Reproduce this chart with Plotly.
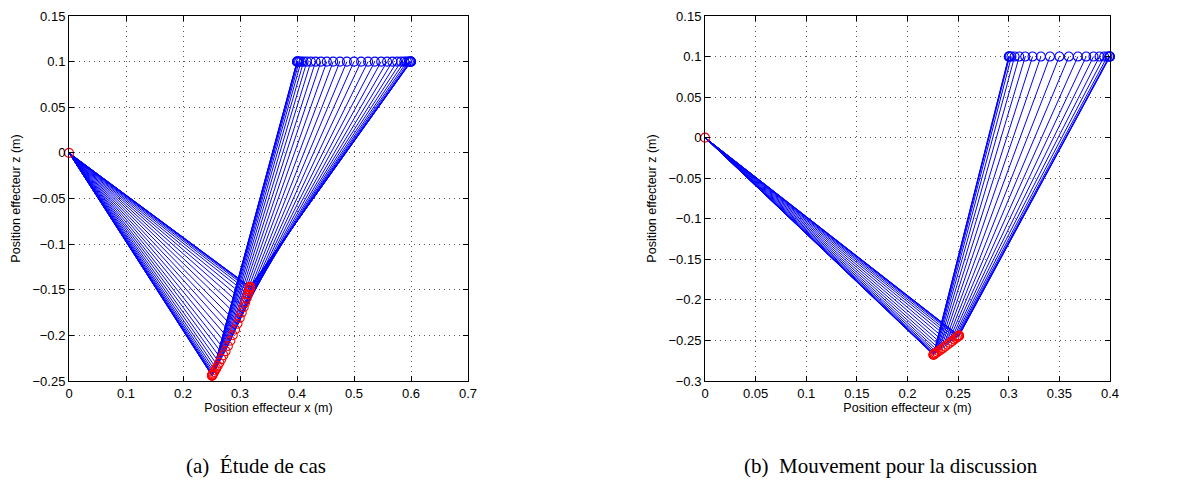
import plotly.graph_objects as go

# ---------------- data ----------------
# (a) Étude de cas : end-effector x positions (z = 0.1) and elbow positions
a_end_x = [0.40000, 0.40007, 0.40053, 0.40171, 0.40384, 0.40710, 0.41158, 0.41734,
           0.42437, 0.43262, 0.44198, 0.45232, 0.46349, 0.47530, 0.48754, 0.50000,
           0.51246, 0.52470, 0.53651, 0.54768, 0.55802, 0.56738, 0.57563, 0.58266,
           0.58842, 0.59290, 0.59616, 0.59829, 0.59947, 0.59993, 0.60000]
a_end_z = [0.1] * len(a_end_x)
a_elbow_x = [0.2509, 0.2509, 0.2510, 0.2514, 0.2520, 0.2530, 0.2544, 0.2561,
             0.2583, 0.2609, 0.2638, 0.2672, 0.2708, 0.2747, 0.2788, 0.2831,
             0.2873, 0.2915, 0.2956, 0.2995, 0.3031, 0.3064, 0.3092, 0.3117,
             0.3137, 0.3152, 0.3164, 0.3171, 0.3176, 0.3177, 0.3177]
a_elbow_z = [-0.2441, -0.2441, -0.2439, -0.2435, -0.2428, -0.2418, -0.2404, -0.2385,
             -0.2362, -0.2333, -0.2300, -0.2260, -0.2217, -0.2173, -0.2117, -0.2059,
             -0.1998, -0.1936, -0.1873, -0.1810, -0.1750, -0.1691, -0.1638, -0.1591,
             -0.1550, -0.1519, -0.1496, -0.1481, -0.1472, -0.1469, -0.1469]

# (b) Mouvement pour la discussion
b_end_x = [0.30000, 0.30012, 0.30086, 0.30266, 0.30579, 0.31035, 0.31631, 0.32352,
           0.33174, 0.34069, 0.35000, 0.35931, 0.36826, 0.37648, 0.38369, 0.38965,
           0.39421, 0.39734, 0.39914, 0.39988, 0.40000]
b_end_z = [0.1] * len(b_end_x)
b_elbow_x = [0.2256, 0.2257, 0.2258, 0.2262, 0.2268, 0.2277, 0.2290, 0.2306,
             0.2325, 0.2347, 0.2370, 0.2394, 0.2418, 0.2441, 0.2461, 0.2478,
             0.2492, 0.2501, 0.2506, 0.2508, 0.2509]
b_elbow_z = [-0.2676, -0.2675, -0.2674, -0.2671, -0.2666, -0.2658, -0.2647, -0.2633,
             -0.2616, -0.2597, -0.2576, -0.2553, -0.2530, -0.2508, -0.2488, -0.2472,
             -0.2458, -0.2449, -0.2443, -0.2441, -0.2441]

base_x, base_z = 0.0, 0.0

x_title = "Position effecteur x (m)"
z_title = "Position effecteur z (m)"
caption_a = "(a)\u00a0\u00a0Étude de cas"
caption_b = "(b)\u00a0\u00a0Mouvement pour la discussion"

BLUE = "#0000ff"
RED = "#ff0000"

fig = go.Figure()


def add_arm(ex, ez, elx, elz, xa, ya):
    lx, lz = [], []
    for i in range(len(ex)):
        lx += [base_x, elx[i], ex[i], None]
        lz += [base_z, elz[i], ez[i], None]
    fig.add_trace(go.Scatter(x=lx, y=lz, mode="lines", xaxis=xa, yaxis=ya,
                             line=dict(color=BLUE, width=1.0), showlegend=False,
                             hoverinfo="skip"))
    fig.add_trace(go.Scatter(x=ex, y=ez, mode="markers", xaxis=xa, yaxis=ya,
                             marker=dict(symbol="circle-open", size=9,
                                         color=BLUE, line=dict(width=1.1, color=BLUE)),
                             showlegend=False, cliponaxis=False))
    fig.add_trace(go.Scatter(x=[base_x] + list(elx), y=[base_z] + list(elz),
                             mode="markers", xaxis=xa, yaxis=ya,
                             marker=dict(symbol="circle-open", size=9,
                                         color=RED, line=dict(width=1.1, color=RED)),
                             showlegend=False, cliponaxis=False))


add_arm(a_end_x, a_end_z, a_elbow_x, a_elbow_z, "x", "y")
add_arm(b_end_x, b_end_z, b_elbow_x, b_elbow_z, "x2", "y2")

# page body has an 8px margin: figure is sized/positioned to compensate
OFF = 8
W, H = 1187 - 2 * OFF, 495 - 2 * OFF - 2


def px(x):
    return (x - OFF) / W


def py(y):
    return 1 - (y - OFF) / H


ydom = [py(381), py(16)]
tickfont = dict(family="Liberation Sans, Arial, sans-serif", size=13, color="#000")
titlefont = dict(family="Liberation Sans, Arial, sans-serif", size=12.5, color="#000")

common = dict(showline=True, linecolor="#000", linewidth=1, mirror="ticks",
              ticks="inside", ticklen=5, tickcolor="#000", showgrid=True,
              gridcolor="#555555", griddash="1px,4px", gridwidth=1, zeroline=False,
              tickfont=tickfont, automargin=False, ticklabeloverflow="allow")

fig.update_layout(
    width=W, height=H, margin=dict(l=0, r=0, t=0, b=0),
    paper_bgcolor="white", plot_bgcolor="white",
    xaxis=dict(domain=[px(69), px(468)], range=[0, 0.7], dtick=0.1, tick0=0,
               title=dict(text=x_title, font=titlefont, standoff=1), anchor="y", **common),
    yaxis=dict(domain=ydom, range=[-0.25, 0.15], dtick=0.05, tick0=0,
               title=dict(text=z_title, font=titlefont, standoff=9), anchor="x", **common),
    xaxis2=dict(domain=[px(705), px(1110)], range=[0, 0.4], dtick=0.05, tick0=0,
                title=dict(text=x_title, font=titlefont, standoff=1), anchor="y2", **common),
    yaxis2=dict(domain=ydom, range=[-0.3, 0.15], dtick=0.05, tick0=0,
                title=dict(text=z_title, font=titlefont, standoff=9), anchor="x2", **common),
    annotations=[
        dict(text=caption_a, x=px(256), y=py(466), xref="paper", yref="paper",
             showarrow=False, xanchor="center", yanchor="middle",
             font=dict(family="Liberation Serif, Times New Roman, serif", size=21, color="#000")),
        dict(text=caption_b, x=px(891), y=py(466), xref="paper", yref="paper",
             showarrow=False, xanchor="center", yanchor="middle",
             font=dict(family="Liberation Serif, Times New Roman, serif", size=21, color="#000")),
    ],
)

fig.write_html("out.html")
